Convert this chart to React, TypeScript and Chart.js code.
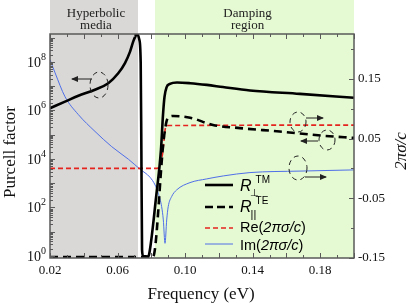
import React, { useEffect, useRef } from 'react';
import { Chart, registerables } from 'chart.js';

Chart.register(...registerables);

const SERIF = '"Liberation Serif", "Times New Roman", Times, serif';
const SANS = '"Liberation Sans", Arial, Helvetica, sans-serif';

// tick labels
const xLabelTicks = [0.02, 0.06, 0.1, 0.14, 0.18];
const rightLabelTicks = [-0.15, -0.05, 0.05, 0.15];
const leftLabelExps = [0, 2, 4, 6, 8];

// shaded regions (frequency, eV)
const hyperbolicRange = [0.02, 0.0721];
const dampingRange = [0.0822, 0.2];

// R_perp^TM (Purcell factor, left axis)
const rTmX = [0.02, 0.0289, 0.0368, 0.0466, 0.0545, 0.0604, 0.0644, 0.0674, 0.0693, 0.0707, 0.0715, 0.0729, 0.0737, 0.0741, 0.0745, 0.0751, 0.078, 0.0786, 0.0828, 0.0857, 0.0869, 0.0878, 0.089, 0.091, 0.0952, 0.1029, 0.1129, 0.1224, 0.1384, 0.168, 0.2];
const rTmY = [1.23e6, 2.29e6, 3.98e6, 7.08e6, 1.32e7, 3.39e7, 8.91e7, 2.63e8, 6.92e8, 1.17e9, 1.41e9, 8.13e8, 9.12e7, 2.34e4, 1.8, 1.0, 0.95, 1.1, 2.6e2, 2.34e4, 6.46e5, 3.63e6, 8.91e6, 1.23e7, 1.41e7, 1.32e7, 1.12e7, 9.12e6, 6.61e6, 4.79e6, 3.31e6];

// R_par^TE (Purcell factor, left axis)
const rTeX = [0.02, 0.08, 0.0811, 0.0871, 0.0881, 0.0891, 0.091, 0.093, 0.103, 0.1165, 0.1325, 0.156, 0.1825, 0.2];
const rTeY = [0.91, 0.91, 0.95, 4.57e4, 1.58e5, 3.8e5, 5.5e5, 5.89e5, 5.0e5, 2.51e5, 1.86e5, 1.35e5, 8.9e4, 7.4e4];

// Re(2πσ/c) (right axis)
const reX = [0.02, 0.0832, 0.0851, 0.0867, 0.0877, 0.0883, 0.09, 0.2];
const reY = [0, 0, 0.006, 0.0255, 0.053, 0.067, 0.0717, 0.0725];

// Im(2πσ/c) (right axis)
const imX = [0.02, 0.023, 0.0289, 0.0368, 0.0466, 0.0565, 0.0664, 0.0733, 0.0792, 0.0822, 0.0841, 0.0861, 0.0871, 0.0881, 0.0891, 0.09, 0.092, 0.095, 0.1029, 0.1128, 0.1226, 0.1384, 0.168, 0.2];
const imY = [0.182, 0.16, 0.12, 0.09, 0.062, 0.0365, 0.0154, -0.0013, -0.0148, -0.0277, -0.0416, -0.064, -0.0863, -0.1254, -0.0863, -0.064, -0.0473, -0.036, -0.0238, -0.0176, -0.0126, -0.007, -0.0045, -0.0025];

const pts = (xs: number[], ys: number[]) => xs.map((x, i) => ({ x, y: ys[i] }));

const GRAY = '#d9d8d6';
const GREEN = '#e5f9d3';
const FRAME = '#5a5a5a';

function arrow(ctx: CanvasRenderingContext2D, x0: number, y0: number, x1: number, y1: number) {
  ctx.beginPath();
  ctx.moveTo(x0, y0);
  ctx.lineTo(x1, y1);
  ctx.stroke();
  const ang = Math.atan2(y1 - y0, x1 - x0);
  const L = 6, W = 3;
  ctx.beginPath();
  ctx.moveTo(x1 + Math.cos(ang) * 1, y1 + Math.sin(ang) * 1);
  ctx.lineTo(x1 - Math.cos(ang) * L - Math.sin(ang) * W, y1 - Math.sin(ang) * L + Math.cos(ang) * W);
  ctx.lineTo(x1 - Math.cos(ang) * L + Math.sin(ang) * W, y1 - Math.sin(ang) * L - Math.cos(ang) * W);
  ctx.closePath();
  ctx.fill();
}

function dashedEllipse(ctx: CanvasRenderingContext2D, cx: number, cy: number, rx: number, ry: number) {
  ctx.save();
  ctx.setLineDash([5, 4]);
  ctx.beginPath();
  ctx.ellipse(cx, cy, rx, ry, 0, 0, Math.PI * 2);
  ctx.stroke();
  ctx.restore();
}

const decor = {
  id: 'decor',
  beforeDatasetsDraw(chart: any) {
    const { ctx, chartArea: a, scales } = chart;
    const xs = scales.x;
    ctx.save();
    const g0 = xs.getPixelForValue(hyperbolicRange[0]);
    const g1 = xs.getPixelForValue(hyperbolicRange[1]);
    ctx.fillStyle = GRAY;
    ctx.fillRect(g0, 0, g1 - g0, a.bottom);
    const d0 = xs.getPixelForValue(dampingRange[0]);
    const d1 = xs.getPixelForValue(dampingRange[1]);
    ctx.fillStyle = GREEN;
    ctx.fillRect(d0, 0, d1 - d0, a.bottom);

    ctx.fillStyle = '#222';
    ctx.font = `13px ${SERIF}`;
    ctx.textAlign = 'center';
    ctx.textBaseline = 'alphabetic';
    const hc = (g0 + g1) / 2 + 2;
    ctx.fillText('Hyperbolic', hc, 17);
    ctx.fillText('media', hc, 29);
    const dc = d0 + (d1 - d0) * 0.465;
    ctx.fillText('Damping', dc, 17);
    ctx.fillText('region', dc, 29);
    ctx.restore();
  },
  afterDatasetsDraw(chart: any) {
    const { ctx, chartArea: a, scales } = chart;
    const xs = scales.x, ys = scales.y, y1 = scales.y1;
    ctx.save();

    // frame
    ctx.strokeStyle = FRAME;
    ctx.lineWidth = 1.5;
    ctx.strokeRect(a.left, a.top, a.right - a.left, a.bottom - a.top);

    // x ticks (top & bottom, inward)
    ctx.lineWidth = 1;
    ctx.beginPath();
    for (let k = 2; k <= 20; k++) {
      const v = k / 100;
      const px = Math.round(xs.getPixelForValue(v)) + 0.5;
      const len = k % 2 === 0 ? 5 : 3;
      ctx.moveTo(px, a.bottom);
      ctx.lineTo(px, a.bottom - len);
      ctx.moveTo(px, a.top);
      ctx.lineTo(px, a.top + len);
    }
    // left log ticks
    for (let e = -1; e <= 9; e++) {
      for (let d = 1; d <= 9; d++) {
        const v = d * Math.pow(10, e);
        if (v < ys.min || v > ys.max) continue;
        const py = Math.round(ys.getPixelForValue(v)) + 0.5;
        const len = d === 1 ? 5 : 3;
        ctx.moveTo(a.left, py);
        ctx.lineTo(a.left + len, py);
      }
    }
    // right linear ticks
    for (let k = -3; k <= 4; k++) {
      const v = k * 0.05;
      const py = Math.round(y1.getPixelForValue(v)) + 0.5;
      const len = k % 2 !== 0 ? 5 : 3;
      ctx.moveTo(a.right, py);
      ctx.lineTo(a.right - len, py);
    }
    ctx.stroke();

    // left tick labels 10^n
    ctx.fillStyle = '#111';
    ctx.textBaseline = 'alphabetic';
    ctx.textAlign = 'left';
    for (const e of leftLabelExps) {
      const py = ys.getPixelForValue(Math.pow(10, e));
      ctx.font = `10px ${SERIF}`;
      const es = String(e);
      const we = ctx.measureText(es).width;
      ctx.font = `14px ${SERIF}`;
      const w = ctx.measureText('10').width;
      const xr = 46;
      ctx.fillText('10', xr - we - w, py + 5);
      ctx.font = `10px ${SERIF}`;
      ctx.fillText(es, xr - we, py - 2);
    }

    // axis titles
    ctx.fillStyle = '#111';
    ctx.textAlign = 'center';
    ctx.textBaseline = 'middle';
    ctx.font = `17px ${SERIF}`;
    ctx.save();
    ctx.translate(11, 152);
    ctx.rotate(-Math.PI / 2);
    ctx.fillText('Purcell factor', 0, 0);
    ctx.restore();
    ctx.fillText('Frequency (eV)', 201, 295);
    ctx.save();
    ctx.translate(402, 151);
    ctx.rotate(-Math.PI / 2);
    ctx.font = `italic 17px ${SERIF}`;
    ctx.fillText('2πσ/c', 0, 0);
    ctx.restore();

    // legend
    const lx0 = 205, lx1 = 233, tx = 240;
    ctx.textAlign = 'left';
    ctx.textBaseline = 'alphabetic';
    const lineSample = (y: number, color: string, lw: number, dash: number[]) => {
      ctx.save();
      ctx.strokeStyle = color;
      ctx.lineWidth = lw;
      ctx.setLineDash(dash);
      ctx.beginPath();
      ctx.moveTo(lx0, y);
      ctx.lineTo(lx1, y);
      ctx.stroke();
      ctx.restore();
    };
    lineSample(185, '#000', 2.6, []);
    lineSample(207, '#000', 2.6, [8, 4]);
    lineSample(228, '#e52420', 1.6, [5, 3]);
    lineSample(244, '#4f6fe8', 1, []);

    ctx.fillStyle = '#000';
    // R_perp^TM
    ctx.font = `italic 16px ${SANS}`;
    ctx.fillText('R', tx, 191);
    const rw = ctx.measureText('R').width;
    ctx.font = `10px ${SANS}`;
    ctx.fillText('TM', tx + rw + 4, 183);
    ctx.font = `10px ${SANS}`;
    ctx.fillText('⊥', tx + rw - 2, 196);
    // R_par^TE
    ctx.font = `italic 16px ${SANS}`;
    ctx.fillText('R', tx, 212);
    ctx.font = `10px ${SANS}`;
    ctx.fillText('TE', tx + rw + 4, 204);
    ctx.font = `11px ${SANS}`;
    ctx.fillText('||', tx + rw - 1, 218);
    // Re / Im
    const mixed = (pre: string, y: number) => {
      let x = tx;
      ctx.font = `14.5px ${SANS}`;
      ctx.fillText(pre + '(', x, y);
      x += ctx.measureText(pre + '(').width;
      ctx.font = `italic 14.5px ${SANS}`;
      ctx.fillText('2πσ/c', x, y);
      x += ctx.measureText('2πσ/c').width;
      ctx.font = `14.5px ${SANS}`;
      ctx.fillText(')', x, y);
    };
    mixed('Re', 232);
    mixed('Im', 250);

    // annotation circles and arrows
    ctx.strokeStyle = '#222';
    ctx.fillStyle = '#222';
    ctx.lineWidth = 1;
    dashedEllipse(ctx, 99, 85, 9, 13);
    arrow(ctx, 92, 79, 72, 79);
    dashedEllipse(ctx, 298, 122, 8, 10);
    arrow(ctx, 306, 118, 323, 118);
    dashedEllipse(ctx, 327, 140, 8, 10);
    arrow(ctx, 318, 141, 301, 141);
    dashedEllipse(ctx, 298, 168, 9, 12);
    arrow(ctx, 305, 177, 326, 177);

    ctx.restore();
  },
};

export default function App() {
  const ref = useRef<HTMLCanvasElement>(null);
  useEffect(() => {
    document.body.style.margin = '0';
    const chart = new Chart(ref.current as HTMLCanvasElement, {
      type: 'line',
      data: {
        datasets: [
          { label: 'R⊥TM', data: pts(rTmX, rTmY), yAxisID: 'y', borderColor: '#000', borderWidth: 2.6, pointRadius: 0, cubicInterpolationMode: 'monotone', fill: false },
          { label: 'R∥TE', data: pts(rTeX, rTeY), yAxisID: 'y', borderColor: '#000', borderWidth: 2.6, borderDash: [8, 5], pointRadius: 0, cubicInterpolationMode: 'monotone', fill: false },
          { label: 'Re(2πσ/c)', data: pts(reX, reY), yAxisID: 'y1', borderColor: '#e52420', borderWidth: 1.6, borderDash: [5, 3], pointRadius: 0, cubicInterpolationMode: 'monotone', fill: false },
          { label: 'Im(2πσ/c)', data: pts(imX, imY), yAxisID: 'y1', borderColor: '#4f6fe8', borderWidth: 1, pointRadius: 0, cubicInterpolationMode: 'monotone', fill: false },
        ],
      } as any,
      options: {
        responsive: false,
        animation: false,
        layout: { padding: { top: 34, left: 0, right: 0, bottom: 0 } },
        plugins: { legend: { display: false }, tooltip: { enabled: false } },
        scales: {
          x: {
            type: 'linear',
            position: 'bottom',
            min: 0.02,
            max: 0.2,
            grid: { display: false, drawTicks: false },
            border: { display: false },
            ticks: {
              stepSize: 0.01,
              autoSkip: false,
              maxRotation: 0,
              padding: 5,
              color: '#111',
              font: { family: SERIF, size: 13 },
              callback: (v: any) => {
                const r = Math.round(Number(v) * 100);
                return xLabelTicks.some((t) => Math.round(t * 100) === r) ? (r / 100).toFixed(2) : '';
              },
            },
            afterFit: (s: any) => { s.height = 49; },
          },
          y: {
            type: 'logarithmic',
            position: 'left',
            min: 0.83,
            max: 1.4e9,
            grid: { display: false, drawTicks: false },
            border: { display: false },
            ticks: { display: false },
            afterFit: (s: any) => { s.width = 50; },
          },
          y1: {
            type: 'linear',
            position: 'right',
            min: -0.15,
            max: 0.225,
            grid: { display: false, drawTicks: false },
            border: { display: false },
            ticks: {
              stepSize: 0.05,
              autoSkip: false,
              padding: 4,
              color: '#111',
              font: { family: SERIF, size: 13 },
              callback: (v: any) => {
                const r = Math.round(Number(v) * 100);
                return rightLabelTicks.some((t) => Math.round(t * 100) === r) ? (r / 100).toFixed(2) : '';
              },
            },
            afterFit: (s: any) => { s.width = 61; },
          },
        },
      } as any,
      plugins: [decor],
    });
    return () => chart.destroy();
  }, []);
  return (
    <div style={{ width: 415, height: 307 }}>
      <canvas ref={ref} width={415} height={307} style={{ display: 'block', width: 415, height: 307 }} />
    </div>
  );
}
